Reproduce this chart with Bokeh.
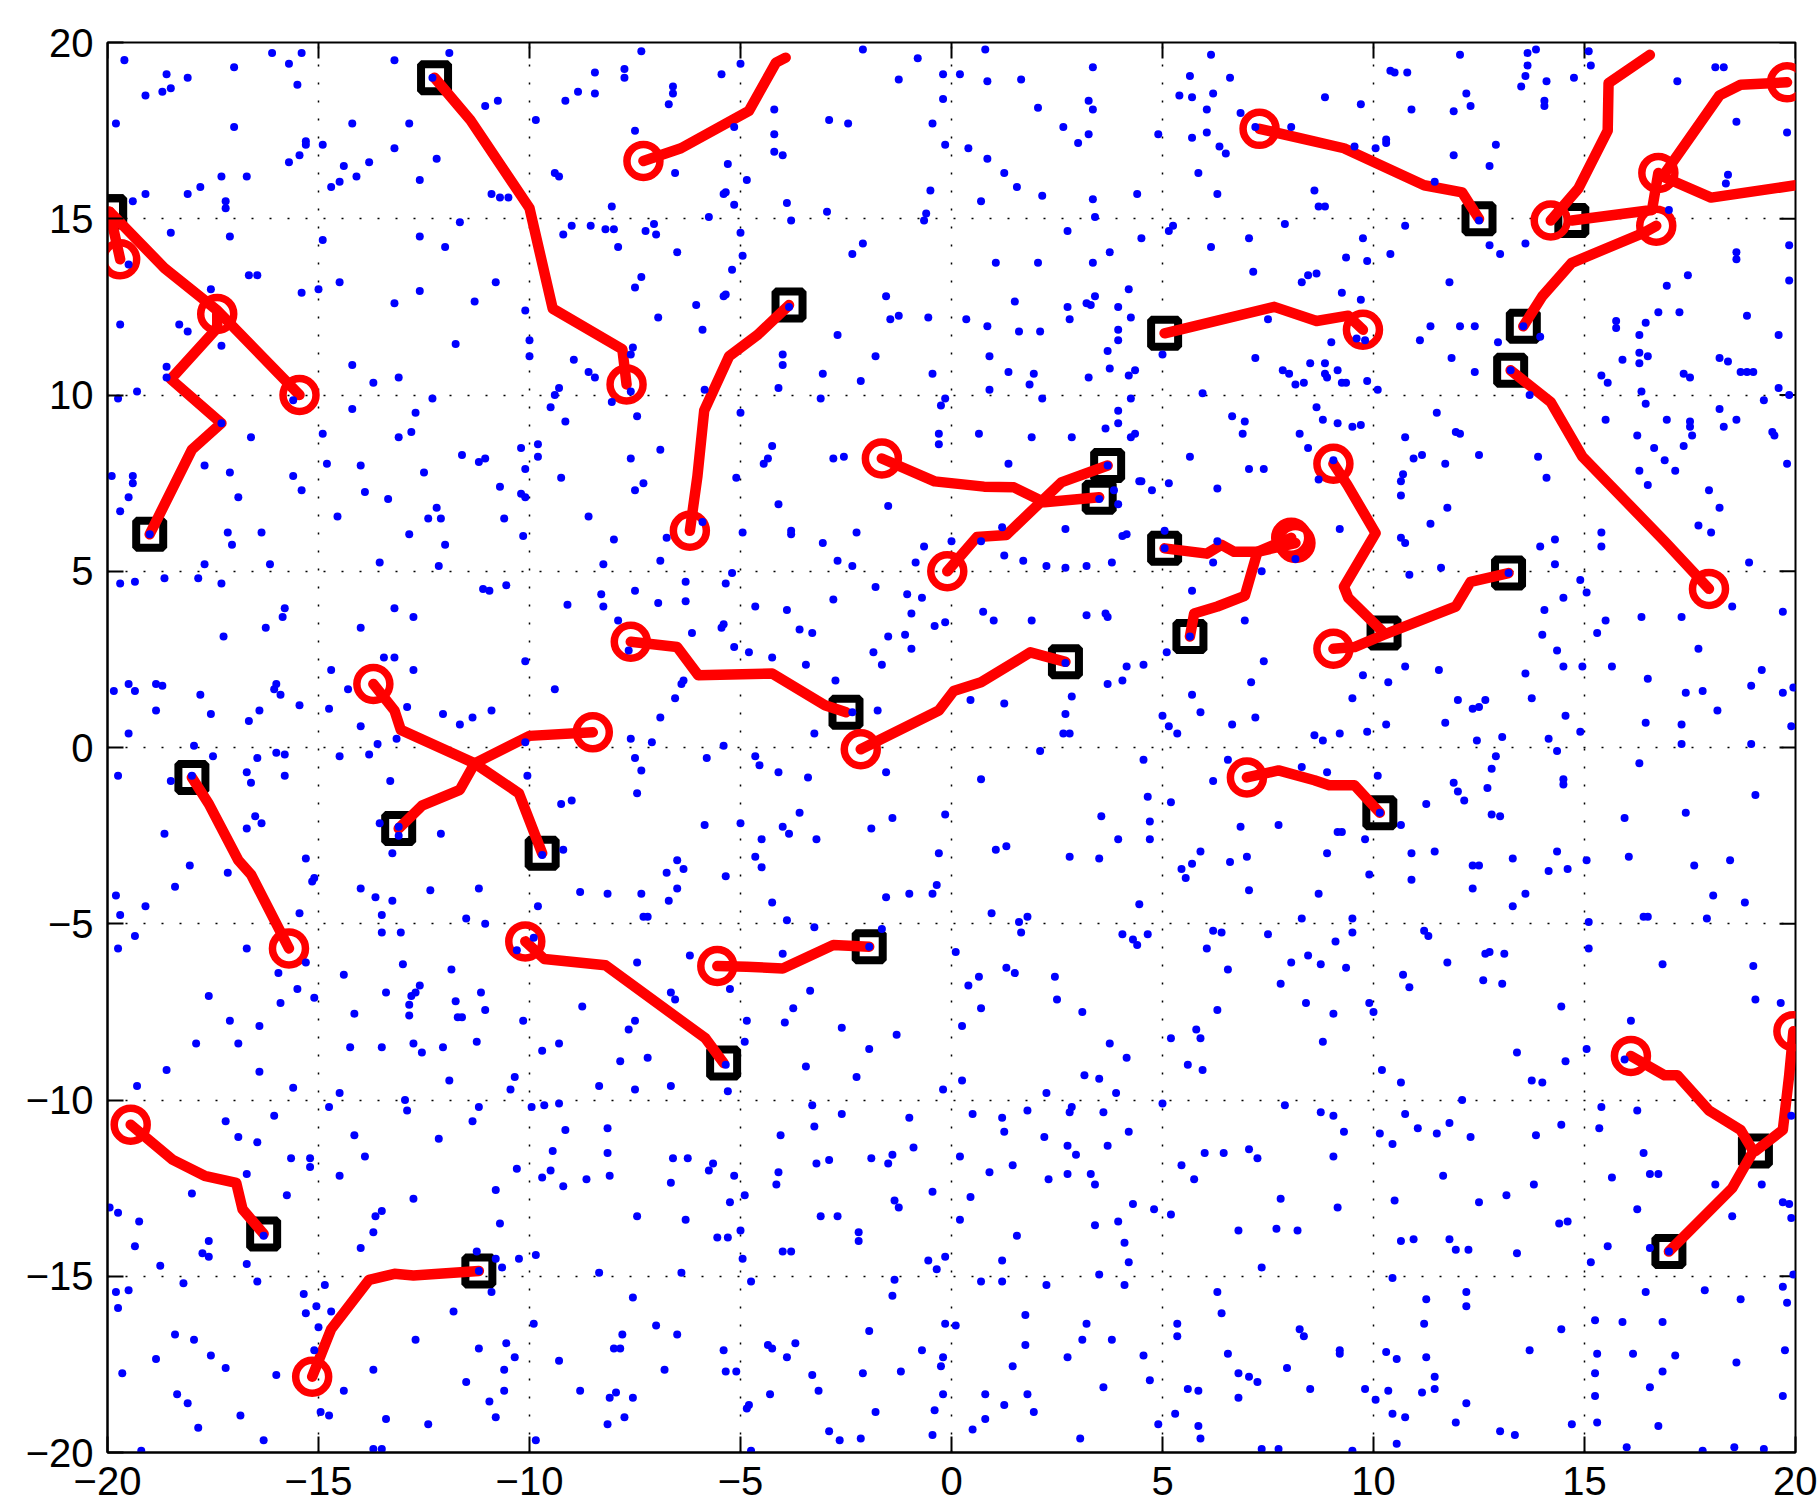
import math
from bokeh.plotting import figure
from bokeh.models import Range1d, FixedTicker
from bokeh.embed import file_html
from bokeh.resources import INLINE

# ---------------- data ----------------
tick_values = [-20, -15, -10, -5, 0, 5, 10, 15, 20]
tick_labels = ["\u221220", "\u221215", "\u221210", "\u22125", "0", "5", "10", "15", "20"]

# trajectories: ordered from start (square) to end (circle)
trajectories = [
    [(-19.0, 6.05), (-18.0, 8.45), (-17.3, 9.2), (-18.5, 10.45), (-17.4, 11.9), (-17.4, 12.3)],
    [(-19.95, 15.2), (-18.65, 13.6), (-17.4, 12.4), (-15.45, 10.0)],
    [(-19.95, 15.2), (-19.7, 13.85)],
    [(-12.25, 19.0), (-11.4, 17.8), (-10.0, 15.3), (-9.45, 12.45), (-7.8, 11.3), (-7.7, 10.3)],
    [(-3.93, 19.57), (-4.16, 19.43), (-4.8, 18.06), (-6.41, 17.0), (-7.3, 16.64)],
    [(-3.85, 12.55), (-4.6, 11.7), (-5.27, 11.1), (-5.86, 9.56), (-6.02, 7.7), (-6.2, 6.15)],
    [(3.5, 7.1), (2.2, 6.96), (1.48, 7.38), (0.77, 7.4), (-0.4, 7.55), (-1.65, 8.2)],
    [(3.7, 8.0), (2.6, 7.52), (1.3, 6.03), (0.6, 5.97), (-0.1, 5.0)],
    [(-2.5, 1.0), (-3.0, 1.2), (-4.25, 2.1), (-6.0, 2.05), (-6.5, 2.85), (-7.6, 3.0)],
    [(2.7, 2.43), (1.87, 2.7), (0.7, 1.85), (0.05, 1.6), (-0.3, 1.05), (-2.15, -0.05)],
    [(-9.7, -3.0), (-10.25, -1.3), (-11.3, -0.45), (-13.05, 0.5), (-13.2, 1.05), (-13.7, 1.8)],
    [(-13.1, -2.3), (-12.55, -1.65), (-11.65, -1.2), (-11.3, -0.45), (-10.0, 0.33), (-8.5, 0.43)],
    [(-18.0, -0.85), (-17.6, -1.6), (-16.9, -3.2), (-16.6, -3.6), (-15.7, -5.7)],
    [(-5.4, -8.95), (-5.83, -8.25), (-8.2, -6.18), (-9.65, -6.0), (-10.1, -5.5)],
    [(-1.95, -5.65), (-2.8, -5.6), (-4.0, -6.27), (-4.85, -6.22), (-5.55, -6.2)],
    [(5.05, 11.75), (7.65, 12.5), (8.65, 12.1), (9.4, 12.25), (9.75, 11.85)],
    [(12.5, 15.0), (12.1, 15.75), (11.2, 15.95), (9.3, 17.0), (7.3, 17.55)],
    [(5.05, 5.65), (6.05, 5.5), (6.4, 5.75), (6.7, 5.55), (7.25, 5.55), (8.15, 5.8)],
    [(5.65, 3.15), (5.75, 3.8), (6.3, 4.0), (6.95, 4.3), (7.25, 5.55), (8.05, 5.95)],
    [(10.25, 3.25), (9.4, 4.25), (9.3, 4.56), (10.05, 6.08), (9.38, 7.45), (9.05, 8.05)],
    [(13.2, 4.95), (12.3, 4.7), (11.95, 4.0), (10.25, 3.2), (9.55, 2.85), (9.05, 2.8)],
    [(10.15, -1.85), (9.55, -1.07), (8.95, -1.07), (8.6, -0.93), (7.75, -0.65), (7.0, -0.85)],
    [(13.25, 10.7), (14.2, 9.8), (14.95, 8.25), (16.9, 5.85), (17.95, 4.5)],
    [(13.55, 11.95), (14.0, 12.8), (14.7, 13.75), (16.4, 14.6), (16.7, 14.8)],
    [(16.55, 19.65), (15.57, 18.85), (15.55, 17.5), (14.85, 15.85), (14.2, 14.95)],
    [(14.7, 14.95), (16.6, 15.25), (16.75, 16.3)],
    [(20.0, 15.95), (18.0, 15.6), (16.85, 16.2), (18.2, 18.5), (18.7, 18.8), (19.8, 18.87)],
    [(19.05, -11.45), (19.7, -10.85), (19.85, -9.3), (19.95, -8.05)],
    [(17.0, -14.3), (18.5, -12.5), (19.0, -11.45), (18.7, -10.85), (17.95, -10.3), (17.2, -9.3), (16.9, -9.3), (16.1, -8.75)],
    [(-16.3, -13.8), (-16.8, -13.1), (-16.95, -12.35), (-17.7, -12.15), (-18.45, -11.7), (-19.45, -10.7)],
    [(-11.2, -14.85), (-12.75, -14.98), (-13.2, -14.93), (-13.8, -15.1), (-14.7, -16.5), (-15.15, -17.85)],
]
# trajectories whose start lies outside the visible box (no square drawn)
no_start_marker = [4, 24, 26]

dots = [
    (-19.6,19.5),(-18.6,19.1),(-18.1,19.0),(-19.1,18.5),(-18.7,18.6),(-18.5,18.7),(-17.0,19.3),(-16.1,19.7),(-15.7,19.4),(-15.4,19.7),
    (-15.5,18.8),(-19.8,17.7),(-17.0,17.6),(-15.3,17.2),(-15.3,17.1),(-15.45,16.8),(-15.7,16.6),(-17.3,16.2),(-16.7,16.2),(-17.8,15.9),
    (-18.1,15.7),(-19.1,15.7),(-19.4,15.5),(-17.2,15.5),(-17.2,15.3),(-18.5,14.6),(-17.1,14.5),(-19.5,13.7),(-16.65,13.4),(-16.45,13.4),
    (-17.55,13.0),(-15.4,12.9),(-19.7,12.0),(-18.3,12.0),(-18.1,11.8),(-17.3,11.4),(-18.6,10.8),(-18.6,10.5),(-19.3,10.1),(-19.75,9.9),
    (-15.6,9.85),(-17.3,9.2),(-16.6,8.8),(-19.9,7.7),(-19.4,7.7),(-19.4,7.5),(-17.7,8.0),(-17.1,7.8),(-15.6,7.7),(-15.4,7.3),
    (-19.5,7.1),(-16.9,7.1),(-19.7,6.7),
    (-13.2,19.5),(-11.9,19.7),(-12.3,19.0),(-11.05,18.2),(-10.75,18.35),(-14.2,17.7),(-12.85,17.7),(-14.9,17.1),(-13.2,17.0),(-12.2,16.7),
    (-14.4,16.5),(-13.8,16.6),(-14.1,16.2),(-14.5,16.05),(-14.7,15.9),(-12.6,16.1),(-10.9,15.7),(-10.7,15.6),(-10.5,15.6),(-11.65,14.9),
    (-14.9,14.4),(-12.6,14.5),(-12.0,14.2),(-14.5,13.2),(-15.0,13.0),(-10.8,13.2),(-12.6,12.95),(-13.2,12.6),(-11.3,12.65),(-10.1,12.4),
    (-11.75,11.45),(-10.0,11.55),(-10.0,11.1),(-14.2,10.85),(-13.1,10.5),(-13.7,10.35),(-12.3,9.9),(-14.2,9.6),(-12.7,9.5),(-14.9,8.9),
    (-12.8,8.95),(-13.1,8.8),(-10.2,8.5),(-11.6,8.3),(-11.2,8.1),(-11.05,8.2),(-10.1,7.9),(-14.8,8.05),(-14.0,8.0),(-12.5,7.8),
    (-10.7,7.4),(-13.9,7.25),(-13.35,7.05),(-10.2,7.2),(-10.1,7.1),(-12.2,6.8),(-14.55,6.55),(-12.4,6.5),(-12.1,6.5),(-10.6,6.5),
    (-7.35,19.75),(-8.45,19.15),(-7.75,19.25),(-7.75,19.0),(-8.85,18.6),(-8.45,18.55),(-9.15,18.35),(-6.6,18.75),(-6.6,18.55),(-6.7,18.25),
    (-9.85,17.8),(-7.5,17.5),(-5.45,19.1),(-5.0,19.4),(-4.2,18.1),(-2.9,17.8),(-2.45,17.7),(-2.1,19.8),(-0.8,19.55),(-1.25,18.95),
    (-0.2,19.1),(-0.2,18.4),(-0.45,17.7),(-0.15,17.1),(-4.2,17.4),(-4.2,16.9),(-4.0,16.8),(-5.15,17.6),(-5.3,16.55),(-6.55,16.3),
    (-4.85,16.1),(-9.4,16.3),(-9.3,16.2),(-5.4,15.7),(-5.35,15.75),(-5.15,15.4),(-3.9,15.45),(-2.95,15.2),(-0.5,15.8),(-0.6,15.15),
    (-0.65,14.95),(-8.05,15.35),(-5.75,15.05),(-3.8,14.95),(-9.0,14.8),(-9.2,14.55),(-8.55,14.8),(-8.2,14.7),(-8.0,14.7),(-7.25,14.65),
    (-7.05,14.85),(-7.0,14.55),(-5.0,14.6),(-7.9,14.2),(-6.5,14.05),(-4.95,13.95),(-2.35,14.0),(-2.1,14.3),(-5.2,13.55),(-7.35,13.35),
    (-7.5,13.05),(-5.4,12.8),(-5.35,12.85),(-6.05,12.55),(-6.95,12.2),(-1.55,12.8),(-1.25,12.25),(-1.45,12.15),(-0.55,12.2),(-3.85,12.5),
    (-5.9,11.85),(-2.7,11.7),(-8.95,11.0),(-7.55,11.35),(-7.6,11.15),(-4.0,11.15),(-4.0,10.85),(-1.8,11.1),(-8.6,10.65),(-8.45,10.5),
    (-3.05,10.6),(-2.15,10.4),(-0.45,10.6),(-9.3,10.2),(-9.4,10.0),(-9.5,9.65),(-7.6,10.1),(-8.05,9.8),(-5.85,10.15),(-4.1,10.2),
    (-3.1,9.9),(-0.15,9.9),(-0.25,9.7),(-7.45,9.4),(-9.15,9.25),(-5.0,9.5),(-0.3,8.9),(-0.3,8.6),(-9.8,8.6),(-9.8,8.25),
    (-6.9,8.45),(-7.6,8.2),(-9.25,7.65),(-7.3,7.5),(-7.5,7.3),(-4.25,8.55),(-4.35,8.2),(-4.45,8.05),(-5.1,7.65),(-2.8,8.2),
    (-2.55,8.25),(-4.1,6.9),(-1.5,6.85),(-8.6,6.55),
    (0.8,19.8),(0.2,19.1),(0.85,18.9),(1.65,18.95),(2.05,18.15),(3.35,19.3),(3.25,18.35),(3.35,18.1),(2.65,17.6),(3.25,17.4),
    (3.0,17.15),(0.4,17.0),(0.85,16.7),(1.25,16.3),(1.55,15.9),(2.15,15.65),(0.7,15.5),(3.35,15.55),(3.4,15.05),(4.4,15.7),
    (4.9,17.4),(2.75,14.65),(4.5,14.45),(3.75,14.05),(1.05,13.75),(2.05,13.75),(3.35,13.75),(4.2,13.0),(1.5,12.65),(2.75,12.5),
    (2.8,12.15),(3.2,12.6),(3.3,12.55),(3.4,12.8),(3.95,12.5),(4.25,12.2),(0.35,12.15),(0.85,11.95),(1.6,11.8),(2.1,11.8),
    (3.95,11.85),(3.95,11.55),(3.7,11.25),(0.9,11.1),(1.35,10.65),(1.95,10.6),(1.85,10.3),(3.75,10.75),(4.35,10.7),(4.2,10.55),
    (3.25,10.5),(0.9,10.15),(2.15,9.9),(4.25,9.9),(3.95,9.55),(3.95,9.2),(3.65,9.05),(4.35,8.9),(4.25,8.8),(0.65,8.9),
    (1.9,8.8),(2.85,8.8),(1.35,8.05),(3.7,8.0),(4.45,7.55),(4.5,7.55),(4.75,7.3),(5.15,7.5),(3.95,6.9),(5.65,8.25),
    (7.05,7.9),(7.4,7.9),(6.3,7.35),(8.7,7.6),(9.05,8.15),(3.5,7.05),(3.85,7.3),
    (6.15,19.65),(5.65,19.05),(6.6,19.0),(5.4,18.5),(5.7,18.45),(6.2,18.55),(6.05,18.1),(6.85,18.0),(7.2,17.6),(8.05,17.6),
    (8.85,18.45),(9.7,18.25),(5.7,17.3),(6.05,17.45),(6.35,17.05),(6.5,16.85),(5.85,16.3),(6.3,15.7),(9.55,17.05),(8.6,15.8),
    (8.7,15.35),(8.85,15.35),(5.25,14.8),(5.15,14.65),(7.05,14.45),(7.9,14.85),(6.15,14.2),(9.75,14.45),(9.35,13.9),(9.85,13.8),
    (7.15,13.5),(8.3,13.2),(8.45,13.4),(8.65,13.45),(9.25,12.9),(9.7,12.7),(7.5,12.15),(9.0,11.5),(9.6,11.6),(9.8,11.55),
    (5.0,11.15),(7.2,11.05),(7.85,10.7),(8.0,10.6),(8.15,10.3),(8.35,10.35),(8.5,10.9),(8.85,10.9),(8.85,10.6),(8.9,10.5),
    (9.15,10.7),(9.25,10.35),(9.35,10.35),(9.85,10.4),(5.95,10.05),(8.65,9.65),(6.65,9.4),(6.95,9.25),(6.9,8.9),(8.8,9.3),
    (9.15,9.2),(9.5,9.1),(9.7,9.15),(8.25,8.9),(8.45,8.5),
    (12.05,19.65),(10.4,19.2),(10.5,19.15),(10.8,19.15),(13.65,19.7),(13.85,19.8),(13.65,19.35),(13.6,19.05),(13.5,18.75),(14.1,18.9),
    (14.75,19.0),(15.1,19.75),(15.15,19.35),(12.2,18.55),(12.3,18.2),(10.9,18.1),(11.9,18.05),(14.05,18.35),(14.05,18.2),(10.05,17.0),
    (10.3,17.25),(10.3,17.15),(11.9,16.8),(12.9,17.1),(12.75,16.5),(11.45,16.05),(18.1,19.3),(18.3,19.3),(17.2,18.9),(18.6,17.75),
    (19.8,17.45),(18.4,16.25),(18.35,16.0),(17.0,15.25),(10.75,14.8),(10.4,14.0),(12.75,14.25),(13.0,14.0),(13.6,14.3),(12.5,14.95),
    (11.8,13.2),(18.6,14.05),(18.6,13.85),(19.85,14.25),(17.45,13.4),(16.95,13.1),(19.85,13.25),(16.75,12.35),(17.25,12.35),(18.85,12.25),
    (15.75,12.1),(15.75,11.9),(16.45,12.05),(16.3,11.7),(19.6,11.7),(11.35,11.95),(12.05,11.95),(12.4,11.95),(11.1,11.55),(12.95,11.5),
    (13.95,11.65),(13.55,11.95),(11.85,11.05),(12.4,10.65),(13.25,10.7),(10.1,10.15),(15.9,11.0),(16.3,11.2),(16.5,11.1),(16.3,10.9),
    (18.2,11.05),(18.4,10.95),(15.4,10.55),(15.55,10.35),(17.35,10.6),(17.5,10.5),(18.7,10.65),(18.85,10.65),(19.0,10.65),(19.6,10.2),
    (19.85,10.0),(16.35,10.1),(16.45,9.75),(13.7,10.0),(11.5,9.5),(19.25,9.85),(18.2,9.6),(18.6,9.3),(15.5,9.3),(16.95,9.3),
    (17.5,9.25),(17.5,9.1),(18.3,9.1),(19.45,8.95),(19.5,8.85),(16.25,8.85),(17.55,8.85),(16.65,8.5),(17.35,8.55),(10.75,8.8),
    (11.95,8.95),(12.05,8.9),(10.95,8.2),(11.15,8.3),(11.7,8.05),(12.5,8.3),(13.9,8.25),(14.1,7.65),(10.7,7.75),(10.65,7.55),
    (10.65,7.15),(11.75,6.8),(16.9,8.15),(16.3,7.85),(17.15,7.85),(16.5,7.45),(17.95,7.3),(18.2,6.8),(19.8,8.05),
    (-19.0,6.05),(-17.15,6.1),(-16.35,6.1),(-17.05,5.75),(-16.15,5.2),(-17.7,5.2),(-12.85,6.05),(-12.0,5.75),(-10.15,6.0),(-13.55,5.25),
    (-12.15,5.15),(-19.7,4.65),(-19.35,4.7),(-18.65,4.8),(-17.85,4.8),(-17.3,4.65),(-11.1,4.5),(-10.95,4.45),(-10.55,4.6),(-15.8,3.95),
    (-15.85,3.7),(-16.25,3.4),(-17.25,3.15),(-13.2,3.95),(-12.75,3.7),(-14.0,3.4),(-13.45,2.55),(-13.2,2.55),(-12.75,2.2),(-14.7,2.2),
    (-10.1,2.45),(-19.85,1.6),(-19.5,1.8),(-19.35,1.6),(-18.85,1.8),(-18.7,1.75),(-18.85,1.05),(-17.8,1.5),(-17.55,0.95),(-16.0,1.8),
    (-16.05,1.65),(-15.9,1.5),(-16.4,1.05),(-16.65,0.75),(-15.45,1.2),(-14.3,1.65),(-14.75,1.1),(-14.0,0.6),(-12.9,1.15),(-12.05,0.95),
    (-11.65,0.65),(-11.35,0.85),(-10.9,1.05),(-19.5,0.4),(-17.95,0.05),(-17.5,-0.25),(-16.45,-0.3),(-16.0,-0.15),(-15.8,-0.2),(-16.7,-0.7),
    (-16.6,-1.0),(-15.8,-0.8),(-19.75,-0.8),(-18.5,-0.95),(-18.0,-0.8),(-13.6,0.1),(-13.8,-0.2),(-14.5,-0.25),(-13.15,0.25),(-13.3,-0.95),
    (-10.1,0.15),(-10.05,-0.8),(-16.5,-1.95),(-16.35,-2.15),(-16.7,-2.3),(-18.65,-2.45),(-13.55,-2.15),(-13.1,-2.25),(-13.1,-2.5),(-12.1,-2.45),
    (-13.25,-3.0),(-15.3,-3.15),(-15.1,-3.7),(-15.15,-3.8),(-18.05,-3.35),(-17.15,-3.55),(-18.4,-3.95),(-19.8,-4.2),(-19.1,-4.5),(-19.7,-4.75),
    (-15.45,-4.7),(-14.0,-4.0),(-13.65,-4.25),(-13.25,-4.35),(-12.35,-4.05),(-11.2,-4.0),(-13.5,-4.75),(-11.5,-4.85),(-11.05,-5.0),(-13.5,-5.25),
    (-13.05,-5.25),(-19.35,-5.35),(-19.75,-5.7),(-16.7,-5.7),(-15.3,-6.1),(-15.95,-6.4),(-13.0,-6.15),(-11.85,-6.3),(-14.4,-6.45),(-10.3,-5.75),
    (-8.0,5.9),(-8.25,5.2),(-6.9,5.3),(-6.75,5.95),(-5.9,6.4),(-4.95,6.1),(-3.8,6.15),(-3.8,6.05),(-3.05,5.8),(-2.25,6.1),
    (-2.7,5.3),(-2.35,5.15),(-0.65,5.7),(-0.85,5.25),(-5.2,4.95),(-5.35,4.65),(-6.3,4.7),(-6.3,4.15),(-7.5,4.45),(-8.3,4.35),
    (-8.25,4.0),(-9.1,4.05),(-6.95,4.1),(-7.9,3.6),(-6.15,3.25),(-5.45,3.4),(-5.4,3.5),(-4.65,4.0),(-3.9,3.9),(-2.8,4.2),
    (-1.8,4.55),(-1.05,4.35),(-0.7,4.25),(-0.95,3.8),(-3.6,3.35),(-3.3,3.25),(-1.5,3.15),(-1.1,3.2),(-0.4,3.45),(-0.15,3.55),
    (-5.15,2.85),(-4.8,2.7),(-4.25,2.55),(-3.45,2.35),(-1.85,2.7),(-1.65,2.35),(-0.95,2.8),(-7.65,2.75),(-6.35,1.9),(-6.4,1.8),
    (-6.55,1.4),(-9.4,1.65),(-6.9,0.85),(-2.75,1.9),(-2.35,1.0),(-1.75,1.05),(-3.25,0.4),(-7.6,0.25),(-7.1,0.15),(-5.4,0.05),
    (-5.8,-0.3),(-7.5,-0.3),(-7.35,-0.65),(-4.65,-0.25),(-4.55,-0.5),(-4.1,-0.7),(-3.4,-0.85),(-1.55,-0.7),(-7.45,-1.3),(-9.25,-1.6),
    (-9.0,-1.5),(-3.6,-1.85),(-1.4,-2.0),(-0.15,-1.9),(-5.85,-2.2),(-5.0,-2.15),(-4.0,-2.25),(-3.85,-2.45),(-4.5,-2.6),(-3.2,-2.6),
    (-1.9,-2.3),(-9.2,-2.9),(-9.7,-3.05),(-6.5,-3.2),(-6.35,-3.45),(-6.75,-3.55),(-4.65,-3.1),(-4.5,-3.4),(-5.35,-3.65),(-0.3,-3.0),
    (-8.8,-4.1),(-8.15,-4.15),(-7.35,-4.15),(-6.5,-4.0),(-6.7,-4.35),(-9.8,-4.5),(-4.25,-4.4),(-1.55,-4.25),(-1.0,-4.15),(-0.45,-4.15),
    (-0.35,-3.9),(-7.3,-4.8),(-7.2,-4.8),(-3.9,-4.9),(-3.25,-5.1),(-1.65,-5.15),(-1.95,-5.65),(-4.0,-5.85),(-6.2,-5.9),(-7.45,-6.1),
    (-9.9,-5.4),
    (0.0,5.85),(1.2,6.25),(2.7,6.2),(4.05,6.0),(4.15,6.05),(5.05,6.15),(5.05,5.65),(1.25,5.45),(1.7,5.3),(2.25,5.15),
    (2.7,5.1),(3.2,5.15),(3.8,5.25),(0.7,5.85),(6.3,5.85),(6.2,5.25),(7.35,5.0),(8.15,5.35),(9.2,6.2),(5.7,4.45),
    (0.75,3.85),(1.0,3.6),(1.9,3.6),(3.2,3.75),(3.65,3.8),(3.7,3.7),(6.95,3.6),(5.65,3.15),(5.1,2.7),(7.4,2.45),
    (4.15,2.3),(4.55,2.35),(4.05,1.9),(3.7,1.8),(7.1,1.85),(9.75,2.05),(9.5,1.4),(2.7,2.4),(2.85,1.45),(2.7,0.95),
    (2.65,0.4),(2.8,0.4),(0.45,1.35),(1.25,1.25),(5.7,1.5),(5.9,1.0),(5.0,0.9),(5.15,0.6),(5.35,0.4),(6.65,0.65),
    (7.2,0.85),(8.6,0.35),(8.8,0.2),(9.2,0.4),(9.85,0.45),(2.1,-0.1),(4.55,-0.35),(6.55,-0.35),(8.3,-0.55),(8.9,-0.7),
    (6.2,-0.95),(0.7,-0.9),(4.65,-1.4),(5.2,-1.55),(3.55,-1.95),(4.7,-2.1),(4.7,-2.6),(3.95,-2.6),(6.85,-2.25),(7.75,-2.2),
    (9.15,-2.4),(9.25,-2.4),(9.8,-2.6),(1.05,-2.9),(1.3,-2.8),(2.8,-3.1),(3.5,-3.15),(5.9,-2.95),(5.7,-3.3),(5.45,-3.45),
    (5.55,-3.7),(6.6,-3.25),(7.0,-3.1),(8.9,-3.0),(9.9,-3.6),(7.05,-4.05),(8.7,-4.15),(4.45,-4.45),(0.95,-4.7),(1.8,-4.8),
    (1.6,-4.95),(1.65,-5.25),(8.3,-4.85),(9.5,-4.85),(9.5,-5.25),(4.05,-5.3),(4.3,-5.45),(4.4,-5.6),(4.65,-5.3),(6.2,-5.2),
    (6.4,-5.25),(7.5,-5.3),(6.05,-5.7),(9.1,-5.5),(8.45,-5.9),(8.75,-6.15),(8.05,-6.1),(9.35,-6.25),(6.55,-6.3),(0.1,-5.8),
    (1.3,-6.25),(1.5,-6.4),(0.65,-6.5),(2.45,-6.5),
    (11.35,6.35),(10.65,5.95),(10.75,5.8),(10.85,4.9),(11.6,5.1),(13.2,4.95),(13.95,5.7),(14.3,5.9),(14.3,5.2),(15.4,6.1),
    (15.4,5.7),(14.9,4.75),(15.05,4.4),(14.5,4.25),(14.05,3.9),(17.7,6.3),(18.0,6.1),(18.9,5.25),(18.5,4.0),(19.7,3.85),
    (16.35,3.7),(17.3,3.7),(15.5,3.6),(15.3,3.25),(14.0,3.2),(14.35,2.75),(17.7,2.8),(10.75,2.3),(11.55,2.2),(10.35,1.85),
    (13.6,2.1),(14.5,2.3),(14.95,2.3),(15.65,2.3),(16.5,1.95),(19.2,2.2),(18.95,1.75),(19.7,1.55),(19.95,1.7),(17.4,1.55),
    (17.8,1.6),(18.15,1.05),(12.0,1.35),(12.65,1.35),(12.35,1.1),(12.5,1.15),(13.75,1.4),(11.7,0.7),(10.3,0.65),(12.45,0.2),
    (13.05,0.3),(14.55,0.9),(14.15,0.25),(14.9,0.45),(16.45,0.7),(17.3,0.65),(17.3,0.1),(18.95,0.1),(19.9,0.6),(14.35,-0.1),
    (12.9,-0.25),(12.8,-0.6),(16.3,-0.45),(10.1,-0.8),(11.9,-1.0),(12.0,-1.25),(12.15,-1.5),(12.7,-1.15),(14.5,-0.9),(14.5,-1.05),
    (11.25,-1.6),(12.8,-1.9),(13.0,-1.95),(19.05,-1.35),(17.4,-1.85),(15.95,-2.0),(10.15,-1.85),(10.65,-2.2),(10.9,-3.0),(11.45,-2.95),
    (10.9,-3.75),(12.35,-3.35),(12.5,-3.35),(13.3,-3.15),(14.35,-2.95),(14.15,-3.5),(14.6,-3.45),(15.05,-3.2),(16.05,-3.1),(17.6,-3.35),
    (18.45,-3.2),(12.35,-4.0),(13.6,-4.15),(13.3,-4.5),(18.05,-4.2),(18.8,-4.4),(16.4,-4.8),(16.5,-4.8),(17.9,-4.85),(15.1,-4.95),
    (11.2,-5.2),(11.3,-5.35),(15.1,-5.7),(12.65,-5.85),(12.75,-5.8),(13.1,-5.85),(11.75,-6.1),(16.85,-6.15),(19.0,-6.2),(10.7,-6.45),
    (12.6,-6.6),
    (-17.6,-7.05),(-15.5,-6.85),(-15.9,-7.25),(-15.1,-7.1),(-17.1,-7.75),(-16.4,-7.9),(-17.9,-8.4),(-16.9,-8.4),(-18.6,-9.15),(-16.4,-9.2),
    (-19.3,-9.6),(-15.6,-9.65),(-13.4,-6.95),(-12.6,-6.75),(-12.7,-6.95),(-12.8,-7.05),(-12.85,-7.3),(-12.85,-7.6),(-14.15,-7.55),(-11.75,-7.2),
    (-11.15,-6.95),(-11.05,-7.45),(-11.7,-7.65),(-11.6,-7.65),(-10.15,-7.75),(-14.25,-8.5),(-13.5,-8.5),(-12.75,-8.4),(-12.55,-8.65),(-12.05,-8.5),
    (-11.25,-8.35),(-11.9,-9.45),(-10.35,-9.35),(-10.45,-9.7),(-14.5,-9.8),(-12.95,-10.0),(-12.9,-10.3),(-14.75,-10.2),(-11.2,-10.2),(-11.35,-10.6),
    (-9.95,-10.2),(-17.2,-10.6),(-16.05,-10.45),(-16.9,-11.05),(-16.45,-11.2),(-14.15,-11.0),(-12.15,-11.1),(-15.65,-11.65),(-15.2,-11.65),(-15.2,-11.9),
    (-13.9,-11.6),(-16.7,-12.1),(-14.5,-12.15),(-10.3,-11.95),(-18.0,-12.65),(-15.75,-12.7),(-12.75,-12.8),(-10.8,-12.55),(-19.95,-13.05),(-19.75,-13.2),
    (-19.25,-13.45),(-13.5,-13.15),(-13.65,-13.3),(-13.7,-13.75),(-10.7,-13.5),(-19.35,-14.15),(-17.6,-14.0),(-17.75,-14.35),(-17.6,-14.45),(-18.75,-14.7),
    (-16.7,-14.65),(-14.0,-14.2),(-16.3,-13.85),(-11.25,-14.3),(-10.25,-14.5),(-10.65,-14.75),(-10.8,-14.5),(-11.2,-14.85),(-10.9,-15.45),(-19.8,-15.45),
    (-19.5,-15.4),(-19.75,-15.9),(-18.2,-15.2),(-16.45,-15.15),(-15.35,-15.5),(-15.3,-16.05),(-14.85,-15.25),(-15.05,-15.85),(-14.7,-16.0),(-15.0,-16.45),
    (-11.8,-16.0),(-18.4,-16.65),(-17.95,-16.8),(-18.85,-17.35),(-17.55,-17.25),(-17.2,-17.6),(-19.65,-17.75),(-16.0,-17.8),(-15.1,-17.1),(-12.7,-16.8),
    (-11.2,-17.05),(-10.55,-16.9),(-10.35,-17.3),(-10.6,-17.65),(-11.5,-18.0),(-10.6,-18.25),(-10.95,-18.55),(-10.8,-19.0),(-13.7,-17.65),(-14.4,-18.25),
    (-18.35,-18.35),(-18.1,-18.6),(-16.85,-18.95),(-17.85,-19.3),(-16.3,-19.65),(-14.95,-18.85),(-14.75,-18.95),(-13.4,-19.05),(-12.4,-19.2),(-13.7,-19.9),
    (-13.5,-19.9),(-19.2,-19.95),
    (-6.65,-6.95),(-6.55,-7.15),(-5.25,-6.85),(-3.35,-6.9),(-8.75,-7.35),(-7.5,-7.75),(-7.65,-8.0),(-4.85,-7.75),(-4.9,-8.35),(-3.95,-7.8),
    (-3.75,-7.4),(-2.6,-7.95),(-1.3,-8.15),(-9.7,-8.6),(-9.3,-8.4),(-7.85,-8.9),(-7.2,-8.8),(-5.35,-9.0),(-3.45,-9.05),(-1.95,-8.55),
    (-2.25,-9.35),(-8.35,-9.6),(-7.5,-9.7),(-6.65,-9.6),(-5.3,-9.75),(-0.2,-9.7),(-9.65,-10.15),(-9.3,-10.1),(-3.3,-10.15),(-2.6,-10.4),
    (-1.0,-10.5),(-9.15,-10.85),(-8.15,-10.8),(-4.05,-11.0),(-3.25,-10.75),(-9.45,-11.45),(-8.15,-11.5),(-6.6,-11.65),(-6.25,-11.65),(-5.65,-11.8),
    (-5.75,-12.0),(-5.15,-12.15),(-3.2,-11.8),(-2.9,-11.7),(-1.9,-11.65),(-1.4,-11.55),(-1.5,-11.8),(-0.9,-11.35),(-4.1,-12.05),(-4.15,-12.4),
    (-9.5,-12.0),(-9.7,-12.2),(-9.2,-12.45),(-8.65,-12.25),(-8.1,-12.15),(-6.65,-12.35),(-4.9,-12.7),(-5.25,-12.9),(-0.45,-12.6),(-1.35,-12.85),
    (-1.25,-13.05),(-7.45,-13.3),(-6.3,-13.4),(-3.1,-13.3),(-2.7,-13.3),(-5.0,-13.7),(-5.55,-13.9),(-5.3,-13.9),(-2.2,-13.75),(-2.2,-14.0),
    (-4.0,-14.3),(-3.8,-14.3),(-9.85,-14.4),(-4.95,-14.5),(-0.55,-14.55),(-0.35,-14.8),(-0.15,-14.45),(-8.35,-14.9),(-6.4,-14.9),(-4.75,-15.15),
    (-1.35,-15.1),(-1.4,-15.55),(-7.55,-15.6),(-9.9,-16.35),(-7.0,-16.4),(-7.8,-16.65),(-6.5,-16.65),(-8.0,-17.05),(-7.85,-17.05),(-1.95,-16.55),
    (-0.15,-16.35),(-4.35,-16.95),(-4.25,-17.05),(-3.7,-16.9),(-3.9,-17.3),(-0.7,-17.1),(-0.2,-17.3),(-0.25,-17.55),(-9.3,-17.4),(-5.4,-17.1),
    (-5.35,-17.7),(-5.1,-17.7),(-6.8,-17.65),(-3.3,-17.8),(-2.1,-17.75),(-1.2,-17.7),(-3.15,-18.25),(-8.8,-18.25),(-7.95,-18.3),(-8.1,-18.45),
    (-7.55,-18.45),(-8.15,-19.2),(-7.75,-19.0),(-4.3,-18.35),(-4.8,-18.65),(-4.85,-18.75),(-1.8,-18.85),(-0.2,-18.35),(-0.4,-18.8),(-2.9,-19.4),
    (-2.65,-19.65),(-2.15,-19.6),(-0.45,-19.5),(-9.85,-19.65),(-4.75,-19.95),
    (0.4,-6.75),(2.5,-7.15),(0.7,-7.4),(3.1,-7.5),(0.25,-7.9),(3.75,-8.4),(4.15,-8.8),(7.8,-6.7),(8.4,-7.25),(9.05,-7.55),
    (9.9,-7.25),(6.3,-7.45),(5.8,-8.0),(5.9,-8.25),(5.2,-8.25),(5.6,-9.0),(5.95,-9.15),(8.8,-8.35),(0.25,-9.45),(3.15,-9.3),
    (3.5,-9.4),(2.25,-9.8),(3.9,-9.8),(5.0,-10.1),(7.9,-10.15),(8.75,-10.35),(9.05,-10.45),(9.3,-10.9),(0.5,-10.4),(1.2,-10.5),
    (1.25,-10.9),(1.8,-10.3),(2.85,-10.2),(2.8,-10.35),(3.6,-10.35),(4.2,-10.9),(2.2,-11.05),(2.75,-11.3),(2.95,-11.55),(3.7,-11.3),
    (0.2,-11.6),(0.9,-12.05),(1.45,-11.85),(2.3,-12.25),(2.75,-12.1),(3.3,-12.1),(3.4,-12.4),(6.0,-11.5),(6.45,-11.5),(7.05,-11.4),
    (7.25,-11.65),(5.45,-11.85),(5.75,-12.25),(9.05,-11.6),(0.45,-12.75),(0.2,-13.4),(4.3,-12.95),(4.8,-13.1),(5.2,-13.25),(3.95,-13.45),
    (3.4,-13.55),(1.55,-13.85),(4.1,-14.05),(4.2,-14.6),(7.8,-12.8),(9.15,-13.05),(6.8,-13.7),(7.7,-13.65),(8.2,-13.7),(7.35,-14.75),
    (1.2,-14.55),(3.5,-14.95),(0.7,-15.15),(1.2,-15.15),(2.25,-15.25),(4.1,-15.25),(6.3,-15.45),(6.4,-16.05),(1.75,-16.1),(0.1,-16.4),
    (3.2,-16.35),(3.1,-16.8),(3.8,-16.8),(1.75,-16.95),(5.35,-16.35),(5.35,-16.7),(8.25,-16.5),(8.35,-16.7),(9.2,-17.1),(9.2,-17.2),
    (6.55,-17.2),(7.95,-17.6),(2.75,-17.3),(4.55,-17.25),(1.45,-17.55),(6.8,-17.75),(7.05,-17.85),(7.25,-18.0),(4.7,-17.95),(3.6,-18.15),
    (5.6,-18.2),(5.85,-18.25),(8.5,-18.2),(9.8,-18.2),(6.8,-18.45),(0.8,-18.35),(1.8,-18.35),(1.25,-18.65),(1.95,-18.85),(0.8,-19.05),
    (0.5,-19.35),(3.05,-19.6),(4.9,-19.2),(5.3,-18.9),(5.85,-19.25),(5.9,-19.6),(7.35,-19.9),(7.75,-19.9),(9.5,-19.95),
    (10.85,-6.8),(13.05,-6.7),(10.0,-7.5),(14.45,-7.35),(16.1,-7.75),(19.05,-7.15),(19.65,-7.25),(10.2,-9.15),(10.65,-9.5),(13.4,-8.65),
    (13.75,-9.45),(14.0,-9.5),(14.55,-8.9),(15.05,-8.55),(15.95,-8.85),(12.1,-10.0),(10.75,-10.4),(10.15,-10.95),(10.45,-11.25),(11.05,-10.8),
    (11.5,-10.95),(11.8,-10.65),(12.3,-11.05),(13.85,-11.0),(14.45,-10.7),(15.4,-10.2),(16.25,-10.3),(15.35,-10.8),(19.9,-10.45),(16.4,-11.5),
    (16.55,-12.1),(16.75,-12.1),(15.65,-12.2),(11.65,-12.15),(13.8,-12.4),(13.15,-12.7),(12.5,-12.9),(10.5,-12.85),(18.1,-12.4),(19.2,-12.4),
    (16.25,-13.1),(18.5,-13.3),(19.7,-12.9),(19.85,-12.95),(19.9,-13.35),(14.4,-13.5),(14.6,-13.45),(10.65,-14.0),(10.95,-13.95),(11.8,-13.95),
    (11.95,-14.25),(12.25,-14.25),(13.4,-14.35),(15.55,-14.15),(15.15,-14.6),(16.55,-14.2),(17.0,-14.3),(10.45,-15.05),(19.95,-14.95),(12.2,-15.45),
    (12.2,-15.85),(11.25,-15.65),(16.45,-15.45),(17.85,-15.4),(18.7,-15.65),(19.7,-15.3),(19.8,-15.75),(11.2,-16.35),(14.45,-16.5),(15.25,-16.25),
    (15.9,-16.3),(16.85,-16.3),(10.3,-17.15),(10.55,-17.35),(11.25,-17.3),(13.7,-17.1),(15.3,-17.2),(16.15,-17.2),(17.15,-17.25),(18.6,-17.45),
    (19.75,-17.1),(11.45,-17.85),(15.25,-17.75),(16.85,-17.7),(16.55,-18.15),(10.35,-18.25),(10.05,-18.5),(11.15,-18.3),(11.45,-18.2),(12.2,-18.6),
    (15.25,-18.4),(19.7,-18.4),(10.45,-18.9),(10.75,-19.0),(11.95,-19.15),(14.7,-19.2),(15.3,-19.15),(16.75,-19.25),(13.0,-19.4),(13.35,-19.5),
    (10.55,-19.75),(16.0,-19.85),(17.8,-19.95),(18.55,-19.85),(19.25,-19.9),
]

# ---------------- derived columns ----------------
dot_x = [d[0] for d in dots]
dot_y = [d[1] for d in dots]
line_xs = [[pt[0] for pt in t] for t in trajectories]
line_ys = [[pt[1] for pt in t] for t in trajectories]
start_x = [t[0][0] for i, t in enumerate(trajectories) if i not in no_start_marker]
start_y = [t[0][1] for i, t in enumerate(trajectories) if i not in no_start_marker]
end_x = [t[-1][0] for t in trajectories]
end_y = [t[-1][1] for t in trajectories]

FONT = "Liberation Sans"
x_lo, x_hi = tick_values[0], tick_values[-1]
y_lo, y_hi = tick_values[0], tick_values[-1]

p = figure(width=1817, height=1504, output_backend="svg", toolbar_location=None,
           x_range=Range1d(x_lo, x_hi), y_range=Range1d(y_lo, y_hi),
           min_border_left=107, min_border_right=22, min_border_top=42, min_border_bottom=52,
           background_fill_color="white", border_fill_color="white")
p.outline_line_color = "black"
p.outline_line_width = 2

ticker = FixedTicker(ticks=tick_values)
overrides = {v: s for v, s in zip(tick_values, tick_labels)}

for ax in (p.xaxis[0], p.yaxis[0]):
    ax.ticker = ticker
    ax.major_label_overrides = overrides
    ax.major_label_text_font = FONT
    ax.major_label_text_font_size = "40px"
    ax.major_label_text_color = "black"
    ax.major_tick_in = 16
    ax.major_tick_out = 0
    ax.major_tick_line_width = 2
    ax.minor_tick_line_color = None
    ax.axis_line_width = 2
p.xaxis[0].major_label_standoff = 14
p.yaxis[0].major_label_standoff = 14

for g in (p.xgrid[0], p.ygrid[0]):
    g.ticker = ticker
    g.grid_line_color = "black"
    g.grid_line_dash = "2 16"
    g.grid_line_width = 1.5

# mirrored inward ticks on the top and right edges of the box
p.ray(x=tick_values, y=[y_hi] * len(tick_values), length=16, length_units="screen",
      angle=-math.pi / 2, line_color="black", line_width=2)
p.ray(x=[x_hi] * len(tick_values), y=tick_values, length=16, length_units="screen",
      angle=math.pi, line_color="black", line_width=2)

# squares (start), lines, circles (end), dots
p.scatter(start_x, start_y, marker="square", size=27, fill_color=None,
          line_color="black", line_width=8)
p.multi_line(line_xs, line_ys, line_color="#ff0000", line_width=10.5,
             line_join="round", line_cap="round")
p.scatter(end_x, end_y, marker="circle", size=33, fill_color=None,
          line_color="#ff0000", line_width=7.5)
p.scatter(dot_x, dot_y, marker="circle", size=8, fill_color="#0000ff",
          line_color=None)

open("out.html", "w").write(file_html(p, INLINE))
